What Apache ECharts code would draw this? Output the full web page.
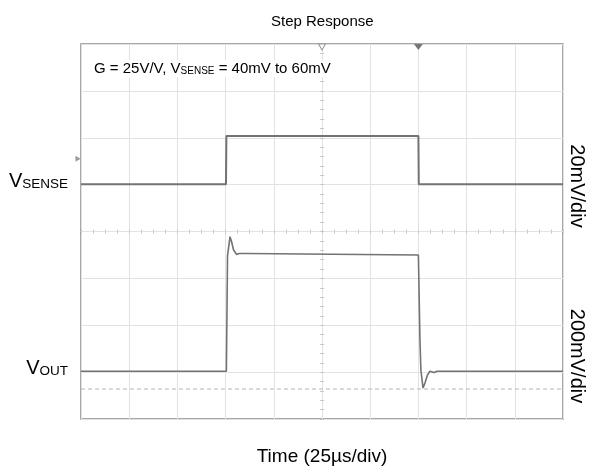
<!DOCTYPE html>
<html>
<head>
<meta charset="utf-8">
<script src="https://cdn.jsdelivr.net/npm/echarts@6/dist/echarts.min.js"></script>
<style>
  html, body { margin: 0; padding: 0; background: #fff; }
  #chart { width: 592px; height: 474px; }
</style>
</head>
<body>
<div id="chart"></div>
<script>
// time in us (25us/div), level in divisions from the bottom (8 div high)
var senseT = [0, 75.2, 75.4, 175.0, 175.2, 250];
var senseV = [5.01, 5.01, 6.04, 6.04, 5.01, 5.01];

var outT = [0, 75.4, 76.0, 77.3, 78.1, 79.1, 80.7, 82.0, 85.8, 86.4, 175.0, 175.8, 176.3, 177.4, 178.4, 179.7, 181.0, 183.1, 184.7, 186.2, 250];
var outV = [1.02, 1.02, 3.48, 3.89, 3.78, 3.61, 3.51, 3.53, 3.53, 3.50, 3.50, 1.69, 1.04, 0.66, 0.77, 0.94, 1.02, 0.99, 1.02, 1.02, 1.02];

var refT = [0, 250];
var refV = [0.64, 0.64];

// channel labels on the left, keyed by level
var chanLabels = { 5: '{v|V}{s|SENSE}', 1: '{v|V}{s|OUT}' };

function pairs(xs, ys) {
    var out = [];
    for (var i = 0; i < xs.length; i++) out.push([xs[i], ys[i]]);
    return out;
}

var font = 'Liberation Sans, Arial, sans-serif';
var gridCol = '#e2e2e2';
var traceCol = '#737373';

var chart = echarts.init(document.getElementById('chart'));

var option = {
    animation: false,
    title: [
        {
            text: 'Step Response',
            left: 266,
            top: 9,
            textStyle: { fontFamily: font, fontSize: 15, fontWeight: 'normal', color: '#000' }
        },
        {
            text: '{a|G = 25V/V, V}{b|SENSE}{a| = 40mV to 60mV}',
            left: 91,
            top: 58,
            padding: [1, 3, 1, 3],
            backgroundColor: '#fff',
            textStyle: {
                fontWeight: 'normal',
                rich: {
                    a: { fontFamily: font, fontSize: 15, fontWeight: 'normal', color: '#000', verticalAlign: 'bottom', lineHeight: 17 },
                    b: { fontFamily: font, fontSize: 10, fontWeight: 'normal', color: '#000', verticalAlign: 'bottom', lineHeight: 14 }
                }
            }
        }
    ],
    grid: {
        left: 81, top: 44, right: 29, bottom: 55,
        show: true, borderColor: '#8a8a8a', borderWidth: 1.5
    },
    xAxis: [
        {
            type: 'value', min: 0, max: 250, interval: 25,
            axisLine: { show: false, onZero: false },
            axisTick: { show: false },
            axisLabel: { show: false },
            splitLine: { show: true, lineStyle: { color: gridCol, width: 1 } },
            name: 'Time (25\u00b5s/div)',
            nameLocation: 'middle',
            nameGap: 28,
            nameTextStyle: { fontFamily: font, fontSize: 19, color: '#000' }
        },
        {
            type: 'value', min: -125, max: 125, interval: 25, position: 'bottom',
            axisLine: { show: true, onZero: true, onZeroAxisIndex: 1, lineStyle: { color: gridCol } },
            axisTick: { show: true, inside: false, length: 2, lineStyle: { color: '#c8c8c8' } },
            minorTick: { show: true, splitNumber: 4, length: 2, lineStyle: { color: '#c8c8c8' } },
            axisLabel: { show: false },
            splitLine: { show: false }
        },
        {
            type: 'value', min: -125, max: 125, interval: 25, position: 'top',
            axisLine: { show: false, onZero: true, onZeroAxisIndex: 1 },
            axisTick: { show: true, inside: false, length: 2, lineStyle: { color: '#c8c8c8' } },
            minorTick: { show: true, splitNumber: 4, length: 2, lineStyle: { color: '#c8c8c8' } },
            axisLabel: { show: false },
            splitLine: { show: false }
        }
    ],
    yAxis: [
        {
            type: 'value', min: 0, max: 8, interval: 1,
            axisLine: { show: false, onZero: false },
            axisTick: { show: false },
            splitLine: { show: true, lineStyle: { color: gridCol, width: 1 } },
            axisLabel: {
                show: true,
                margin: 13,
                padding: [0, 0, 9, 0],
                formatter: function (v) { return chanLabels[v] || ''; },
                rich: {
                    v: { fontFamily: font, fontSize: 20, color: '#000', verticalAlign: 'bottom', lineHeight: 22 },
                    s: { fontFamily: font, fontSize: 13.5, color: '#000', verticalAlign: 'bottom', lineHeight: 17 }
                }
            }
        },
        {
            type: 'value', min: -4, max: 4, interval: 1, position: 'left',
            axisLine: { show: true, onZero: true, onZeroAxisIndex: 1, lineStyle: { color: gridCol } },
            axisTick: { show: true, inside: false, length: 2, lineStyle: { color: '#c8c8c8' } },
            minorTick: { show: true, splitNumber: 5, length: 2, lineStyle: { color: '#c8c8c8' } },
            axisLabel: { show: false },
            splitLine: { show: false }
        },
        {
            type: 'value', min: -4, max: 4, interval: 1, position: 'right',
            axisLine: { show: false, onZero: true, onZeroAxisIndex: 1 },
            axisTick: { show: true, inside: false, length: 2, lineStyle: { color: '#c8c8c8' } },
            minorTick: { show: true, splitNumber: 5, length: 2, lineStyle: { color: '#c8c8c8' } },
            axisLabel: { show: false },
            splitLine: { show: false }
        }
    ],
    graphic: [
        {
            type: 'text', x: 577, y: 186, rotation: -Math.PI / 2,
            style: { text: '20mV/div', font: '20px ' + font, fill: '#000', align: 'center', verticalAlign: 'middle' }
        },
        {
            type: 'text', x: 577, y: 356, rotation: -Math.PI / 2,
            style: { text: '200mV/div', font: '20px ' + font, fill: '#000', align: 'center', verticalAlign: 'middle' }
        }
    ],
    series: [
        {
            name: 'GND', type: 'line', data: pairs(refT, refV), symbol: 'none',
            lineStyle: { color: '#b4b4b4', width: 1, type: [4, 3] }, z: 2
        },
        {
            name: 'VSENSE', type: 'line', data: pairs(senseT, senseV), symbol: 'none',
            lineStyle: { color: traceCol, width: 2 }, z: 3,
            markPoint: {
                silent: true,
                label: { show: false },
                data: [
                    { coord: [125, 8], symbol: 'triangle', symbolRotate: 180, symbolSize: [7, 6], symbolOffset: [0, 3],
                      itemStyle: { color: '#fff', borderColor: '#9a9a9a', borderWidth: 1 } },
                    { coord: [175, 8], symbol: 'triangle', symbolRotate: 180, symbolSize: [9, 6], symbolOffset: [0, 3],
                      itemStyle: { color: '#777' } },
                    { coord: [0, 5.55], symbol: 'triangle', symbolRotate: -90, symbolSize: [6, 5], symbolOffset: [-3, 0],
                      itemStyle: { color: '#999' } }
                ]
            }
        },
        {
            name: 'VOUT', type: 'line', data: pairs(outT, outV), symbol: 'none',
            lineStyle: { color: traceCol, width: 1.6 }, z: 3
        }
    ]
};

chart.setOption(option);
</script>
</body>
</html>
